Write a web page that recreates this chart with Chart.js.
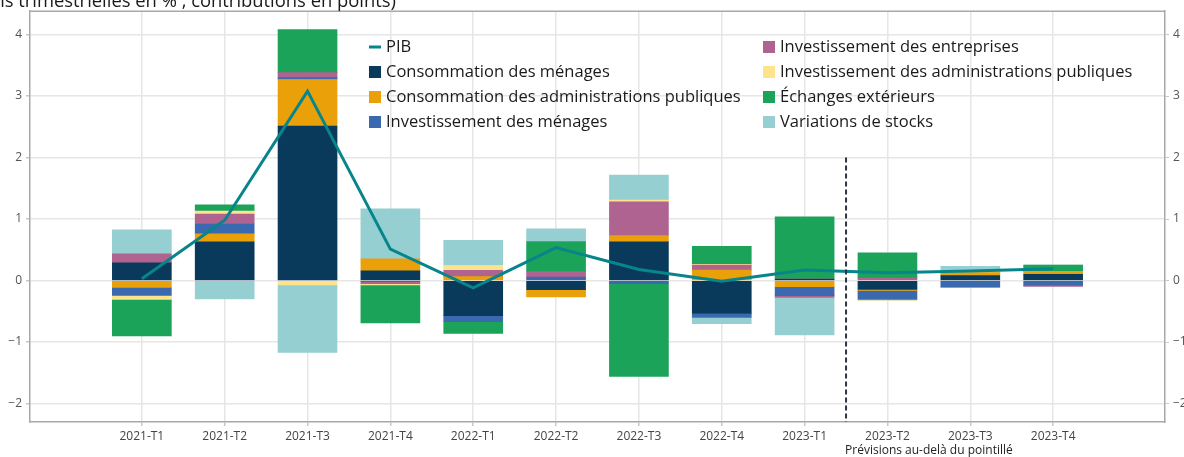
<!DOCTYPE html>
<html lang="fr">
<head>
<meta charset="utf-8">
<script src="https://cdn.jsdelivr.net/npm/chart.js@4/dist/chart.umd.min.js"></script>
<style>
  html, body { margin: 0; padding: 0; background: #fff; }
  #wrap { position: relative; width: 1184px; height: 457px; }
</style>
</head>
<body>
<div id="wrap"><canvas id="chart"></canvas></div>
<script>
// Données : contributions trimestrielles en points, PIB en %
const categories = ['2021-T1', '2021-T2', '2021-T3', '2021-T4', '2022-T1', '2022-T2',
                    '2022-T3', '2022-T4', '2023-T1', '2023-T2', '2023-T3', '2023-T4'];
const yTicks = [-2, -1, 0, 1, 2, 3, 4];

const pib               = [0.03, 0.98, 3.08, 0.51, -0.12, 0.535, 0.18, -0.01, 0.17, 0.125, 0.155, 0.19];
const consoMenages      = [0.29, 0.63, 2.51, 0.16, -0.57, -0.15, 0.63, -0.535, 0.03, -0.146, 0.08, 0.10];
const consoAPU          = [-0.11, 0.13, 0.76, 0.195, 0.065, -0.11, 0.10, 0.17, -0.10, -0.016, 0.05, 0.05];
const investMenages     = [-0.13, 0.16, 0.03, -0.02, -0.10, 0.055, -0.05, -0.065, -0.145, -0.146, -0.10, -0.08];
const investEntreprises = [0.145, 0.16, 0.08, -0.03, 0.10, 0.09, 0.55, 0.08, -0.03, 0.04, -0.01, -0.015];
const investAPU         = [-0.065, 0.05, -0.07, -0.02, 0.08, -0.015, 0.03, 0.015, 0, -0.01, 0, 0];
const echanges          = [-0.595, 0.10, 0.70, -0.62, -0.19, 0.49, -1.51, 0.29, 1.005, 0.41, 0, 0.10];
const stocks            = [0.39, -0.30, -1.10, 0.81, 0.41, 0.205, 0.405, -0.10, -0.61, 0, 0.10, 0];

const forecastFrom = 8.5; // pointillé entre 2023-T1 et 2023-T2

const FONT = '"Open Sans", "Noto Sans", sans-serif';

const toPoints = (arr) => arr.map((v, i) => ({ x: i, y: v }));

const barSeries = [
  ['Consommation des ménages', consoMenages, '#0A3A5B'],
  ['Consommation des administrations publiques', consoAPU, '#E9A009'],
  ['Investissement des ménages', investMenages, '#3A69B0'],
  ['Investissement des entreprises', investEntreprises, '#AF6391'],
  ['Investissement des administrations publiques', investAPU, '#FDE38B'],
  ['Échanges extérieurs', echanges, '#1BA35A'],
  ['Variations de stocks', stocks, '#96CFD2'],
];

const datasets = [{
  type: 'line',
  label: 'PIB',
  data: toPoints(pib),
  yAxisID: 'y2',
  borderColor: '#08858A',
  borderWidth: 3,
  pointRadius: 0,
  tension: 0,
  order: 0,
}];
barSeries.forEach(([label, values, color]) => {
  datasets.push({
    type: 'bar',
    label,
    data: toPoints(values),
    yAxisID: 'y',
    stack: 'contrib',
    backgroundColor: color,
    borderWidth: 0,
    barThickness: 59,
    order: 1,
  });
});

const fmt = (v) => (v < 0 ? '\u2212' + Math.abs(v) : String(v));

// Légende sur deux colonnes, titre tronqué, pointillé et mention des prévisions
const decorations = {
  id: 'decorations',
  beforeDatasetsDraw(chart) {
    const { ctx, chartArea } = chart;
    ctx.save();
    // bord supérieur
    ctx.strokeStyle = '#a8a8a8';
    ctx.lineWidth = 1.5;
    ctx.beginPath();
    ctx.moveTo(chartArea.left, chartArea.top);
    ctx.lineTo(chartArea.right, chartArea.top);
    ctx.stroke();
    ctx.restore();
  },
  afterDatasetsDraw(chart) {
    const { ctx, chartArea, scales } = chart;
    ctx.save();

    // pointillé
    const xd = scales.x.getPixelForValue(forecastFrom);
    ctx.strokeStyle = '#2b3440';
    ctx.lineWidth = 2;
    ctx.setLineDash([5, 3]);
    ctx.beginPath();
    ctx.moveTo(xd, scales.y.getPixelForValue(2));
    ctx.lineTo(xd, chartArea.bottom);
    ctx.stroke();
    ctx.setLineDash([]);

    // légende
    const cols = [{ mx: 369, tx: 386 }, { mx: 763, tx: 780 }];
    const rows = [47, 72, 97, 122];
    ctx.font = '16.5px ' + FONT;
    ctx.textBaseline = 'middle';
    ctx.textAlign = 'left';
    chart.data.datasets.forEach((ds, i) => {
      const c = cols[Math.floor(i / 4)];
      const y = rows[i % 4];
      if (ds.type === 'line') {
        ctx.fillStyle = ds.borderColor;
        ctx.fillRect(c.mx, y - 1.5, 12, 3);
      } else {
        ctx.fillStyle = ds.backgroundColor;
        ctx.fillRect(c.mx, y - 6, 12, 12);
      }
      ctx.fillStyle = '#1a1a1a';
      ctx.fillText(ds.label, c.tx, y);
    });

    // titre tronqué en haut
    ctx.font = '18.4px ' + FONT;
    ctx.textAlign = 'right';
    ctx.textBaseline = 'alphabetic';
    ctx.fillStyle = '#1a1a1a';
    ctx.fillText('(variations trimestrielles en % , contributions en points)', 396, 7);

    // mention des prévisions
    ctx.font = '12px ' + FONT;
    ctx.textAlign = 'center';
    ctx.fillStyle = '#222';
    ctx.fillText('Prévisions au-delà du pointillé', scales.x.getPixelForValue(9.5), 454);
    ctx.restore();
  },
};

const yCommon = {
  min: -2.3,
  max: 4.38,
  afterBuildTicks: (s) => { s.ticks = yTicks.map((v) => ({ value: v })); },
  ticks: { color: '#555', font: { family: FONT, size: 12 }, padding: 4, callback: fmt },
  border: { color: '#a8a8a8', width: 1.5 },
};

new Chart(document.getElementById('chart'), {
  data: { datasets },
  options: {
    responsive: true,
    maintainAspectRatio: false,
    animation: false,
    layout: { padding: { top: 10, left: 0, right: 0, bottom: 0 } },
    plugins: { legend: { display: false }, tooltip: { enabled: false } },
    scales: {
      x: {
        type: 'linear',
        min: -1.35,
        max: 12.35,
        offset: false,
        stacked: true,
        afterBuildTicks: (s) => { s.ticks = categories.map((c, i) => ({ value: i })); },
        afterFit: (s) => { s.height = 35; },
        ticks: {
          autoSkip: false, maxRotation: 0, padding: 3,
          color: '#444', font: { family: FONT, size: 12 },
          callback: (v) => categories[v] ?? '',
        },
        grid: { offset: false, color: '#e6e6e6', lineWidth: 1.5, tickLength: 4, tickColor: '#c8c8c8' },
        border: { color: '#a8a8a8', width: 1.5 },
      },
      y: {
        ...yCommon,
        position: 'left',
        stacked: true,
        afterFit: (s) => { s.width = 30; },
        grid: { color: '#e6e6e6', lineWidth: 1.5, tickLength: 4, tickColor: '#c8c8c8' },
      },
      y2: {
        ...yCommon,
        position: 'right',
        afterFit: (s) => { s.width = 19; },
        grid: { drawOnChartArea: false, tickLength: 4, tickColor: '#c8c8c8' },
      },
    },
  },
  plugins: [decorations],
});
</script>
</body>
</html>
